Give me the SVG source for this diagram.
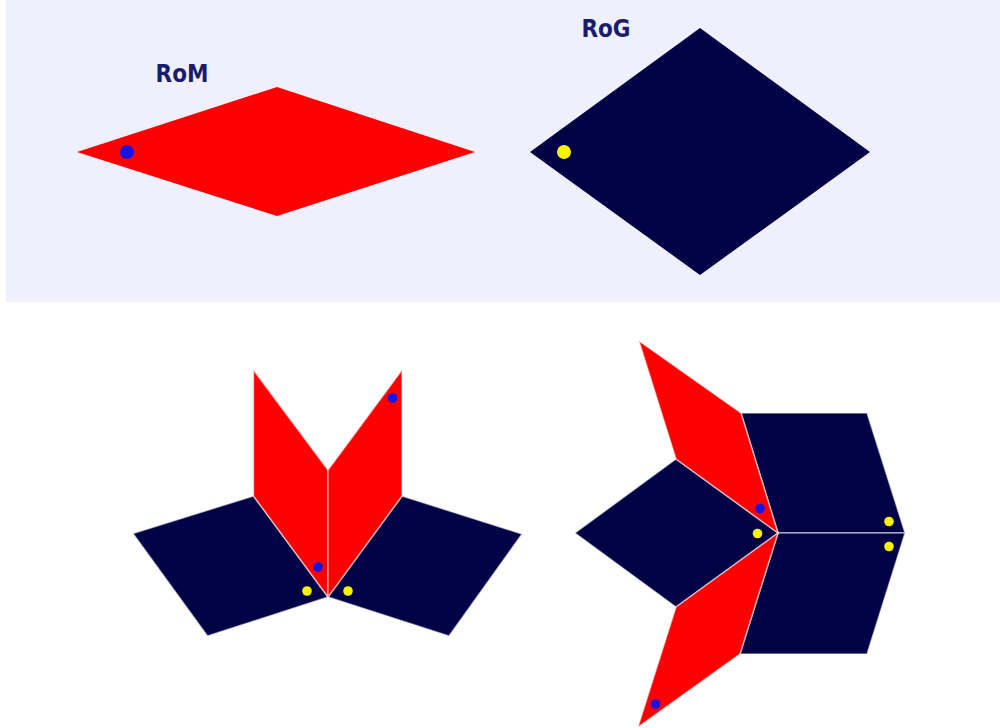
<svg xmlns="http://www.w3.org/2000/svg" width="1000" height="728" viewBox="0 0 1000 728">
  <style>
    .red { fill: #ff0000; }
    .navy { fill: #010146; }
    .tile { stroke: #ffffff; stroke-opacity: 0.55; stroke-width: 1.5; stroke-linejoin: miter; }
    .blue { fill: #1414e6; }
    .yellow { fill: #fbf200; }
    .label { font-family: "DejaVu Sans", Verdana, sans-serif; font-weight: bold; font-stretch: condensed; font-size: 24px; fill: #1c1c6e; text-anchor: middle; }
  </style>
  <rect x="0" y="0" width="1000" height="728" fill="#ffffff"/>
  <rect id="panel" x="6" y="0" width="994" height="302" fill="#f0f0fc"/>

  <g id="RoM">
    <polygon class="red" points="77,152 277,87 475,152 277,216"/>
    <circle class="blue" cx="127" cy="152" r="7"/>
    <text class="label" x="182" y="82">RoM</text>
  </g>
  <g id="RoG">
    <polygon class="navy" points="700,28 870,152 700,275 530,152"/>
    <circle class="yellow" cx="564" cy="152" r="7"/>
    <text class="label" x="606" y="37">RoG</text>
  </g>

  <g id="figure-left">
    <g id="L-navy-left">
      <polygon class="navy tile" points="328,597 253.5,496 133,533.5 207.5,636"/>
    </g>
    <g id="L-navy-right">
      <polygon class="navy tile" points="328,597 402,496 522,534 449,636"/>
    </g>
    <g id="L-red-left">
      <polygon class="red tile" points="328,597 328,470 253.5,370 253.5,496"/>
    </g>
    <g id="L-red-right">
      <polygon class="red tile" points="328,597 328,470 402,370 402,496"/>
    </g>
    <circle class="blue" cx="318" cy="567" r="4.8"/>
    <circle class="blue" cx="392.5" cy="398" r="4.8"/>
    <circle class="yellow" cx="307" cy="591" r="4.8"/>
    <circle class="yellow" cx="348" cy="591" r="4.8"/>
  </g>

  <g id="figure-right">
    <g id="R-navy-top">
      <polygon class="navy tile" points="778,533 741,413 867,413 905,533"/>
    </g>
    <g id="R-navy-bottom">
      <polygon class="navy tile" points="778,533 740,654 867,654 905,533"/>
    </g>
    <g id="R-navy-left">
      <polygon class="navy tile" points="778,533 676,459 575,533 676,607"/>
    </g>
    <g id="R-red-top">
      <polygon class="red tile" points="778,533 741,413 639,341 676,459"/>
    </g>
    <g id="R-red-bottom">
      <polygon class="red tile" points="778,533 740,654 638,727 676,607"/>
    </g>
    <circle class="blue" cx="760" cy="508.5" r="4.8"/>
    <circle class="blue" cx="655.5" cy="704" r="4.8"/>
    <circle class="yellow" cx="757.5" cy="533.5" r="4.8"/>
    <circle class="yellow" cx="889" cy="521.5" r="4.8"/>
    <circle class="yellow" cx="889" cy="546.5" r="4.8"/>
  </g>
</svg>
